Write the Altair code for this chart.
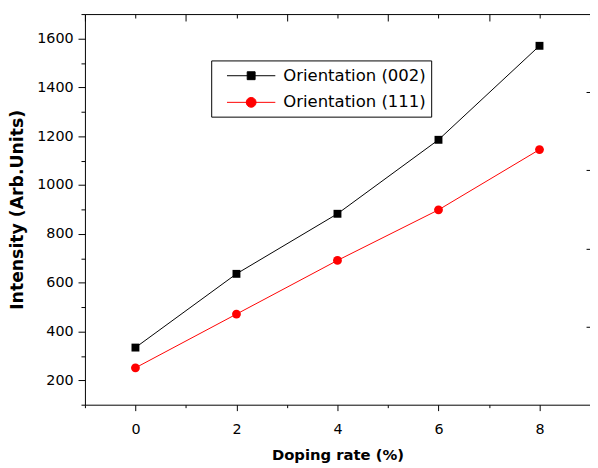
import altair as alt
import pandas as pd

# ---- data ----
doping = [0, 2, 4, 6, 8]
orient_002 = [334, 636, 882, 1185, 1570]
orient_111 = [251, 471, 691, 898, 1145]
series_names = ["Orientation (002)", "Orientation (111)"]
series_colors = ["#000000", "#ff0000"]
x_ticks = list(range(-1, 10))
x_top_long = [-1, 1, 3, 5, 7, 9]
x_top_short = [0, 2, 4, 6, 8]
y_ticks = list(range(100, 1800, 100))
right_ticks = [420, 740, 1060, 1380]

df = pd.DataFrame({
    "doping": doping * 2,
    "intensity": orient_002 + orient_111,
    "series": [series_names[0]] * len(doping) + [series_names[1]] * len(doping),
})

FONT = "DejaVu Sans"
xs = alt.Scale(domain=[-1, 9], nice=False, zero=False)
ys = alt.Scale(domain=[100, 1700], nice=False, zero=False)
cs = alt.Scale(domain=series_names, range=series_colors)

sq_path = "M-2.45,0H2.45M-0.4,-0.4H0.4V0.4H-0.4Z"
ci_path = "M-2.45,0H2.45M0.5,0A0.5,0.5,0,1,1,-0.5,0A0.5,0.5,0,1,1,0.5,0Z"
shape_scale = alt.Scale(domain=series_names, range=[sq_path, ci_path])

common = dict(tickColor="black", domainColor="black", grid=False)

x_bottom = alt.Axis(
    orient="bottom", values=x_ticks, format="d",
    labelExpr="datum.value % 2 == 0 ? datum.label : ''",
    tickSize={"condition": {"test": "datum.value % 2 != 0", "value": 3}, "value": 6},
    labelPadding=12, labelFont=FONT, labelFontSize=14.5, labelColor="black",
    title="Doping rate (%)", titleFont=FONT, titleFontSize=15, titleFontWeight="bold",
    titleColor="black", titlePadding=12, **common)

y_left = alt.Axis(
    orient="left", values=y_ticks, format="d",
    labelExpr="(datum.value % 200 == 0 && datum.value >= 200 && datum.value <= 1600) ? datum.label : ''",
    tickSize={"condition": {"test": "datum.value % 200 != 0", "value": 4}, "value": 7},
    labelPadding=5, labelFont=FONT, labelFontSize=14.5, labelColor="black",
    title="Intensity (Arb.Units)", titleFont=FONT, titleFontSize=17.5, titleFontWeight="bold",
    titleColor="black", titlePadding=10, **common)

x_top_l = alt.Axis(orient="top", values=x_top_long, offset=-7, tickSize=7,
                   labels=False, domain=False, title=None, **common)
x_top_s = alt.Axis(orient="top", values=x_top_short, offset=-4, tickSize=4,
                   labels=False, domain=False, title=None, **common)
x_top_d = alt.Axis(orient="top", ticks=False, labels=False, domain=True, title=None, **common)
y_right = alt.Axis(orient="right", values=right_ticks, offset=-4, tickSize=4,
                   labels=False, domain=False, title=None, **common)

base = alt.Chart(df)

NBSP = "\u00a0"
leg = alt.Legend(
    title=None, orient="none", legendX=128, legendY=47,
    strokeColor="black", padding=5, symbolSize=400, symbolStrokeWidth=1,
    symbolOffset=25, labelOffset=22, labelFont=FONT, labelFontSize=16.7,
    labelColor="black", rowPadding=7, labelExpr="datum.label + '" + NBSP * 3 + "'",
)

# legend-only layer (first, so its legend settings win the merge)
legend_layer = base.mark_point(filled=True, size=400, opacity=1, strokeWidth=1).encode(
    x=alt.X("doping:Q", scale=xs, axis=x_top_d),
    y=alt.Y("intensity:Q", scale=ys, axis=None),
    color=alt.Color("series:N", scale=cs, legend=leg),
    stroke=alt.Stroke("series:N", scale=alt.Scale(domain=series_names, range=series_colors), legend=leg),
    shape=alt.Shape("series:N", scale=shape_scale, legend=leg),
).transform_filter("false")

lines = base.mark_line(strokeWidth=1).encode(
    x=alt.X("doping:Q", scale=xs, axis=x_bottom),
    y=alt.Y("intensity:Q", scale=ys, axis=y_left),
    color=alt.Color("series:N", scale=cs, legend=None),
    order="doping:Q",
)

squares = base.mark_square(size=64, opacity=1).encode(
    x=alt.X("doping:Q", scale=xs, axis=x_top_l),
    y=alt.Y("intensity:Q", scale=ys, axis=y_right),
    color=alt.Color("series:N", scale=cs, legend=None),
).transform_filter(alt.datum.series == series_names[0])

circles = base.mark_circle(size=80, opacity=1).encode(
    x=alt.X("doping:Q", scale=xs, axis=x_top_s),
    y=alt.Y("intensity:Q", scale=ys, axis=None),
    color=alt.Color("series:N", scale=cs, legend=None),
).transform_filter(alt.datum.series == series_names[1])

chart = alt.layer(legend_layer, lines, squares, circles).resolve_axis(
    x="independent", y="independent"
).properties(
    width=512, height=396,
    autosize=alt.AutoSizeParams(type="none"),
    padding={"left": 78, "top": 3, "right": 0, "bottom": 60},
).configure_view(stroke=None).configure_axis(grid=False)

chart.save("out.html", embed_options={"renderer": "svg", "actions": False})
